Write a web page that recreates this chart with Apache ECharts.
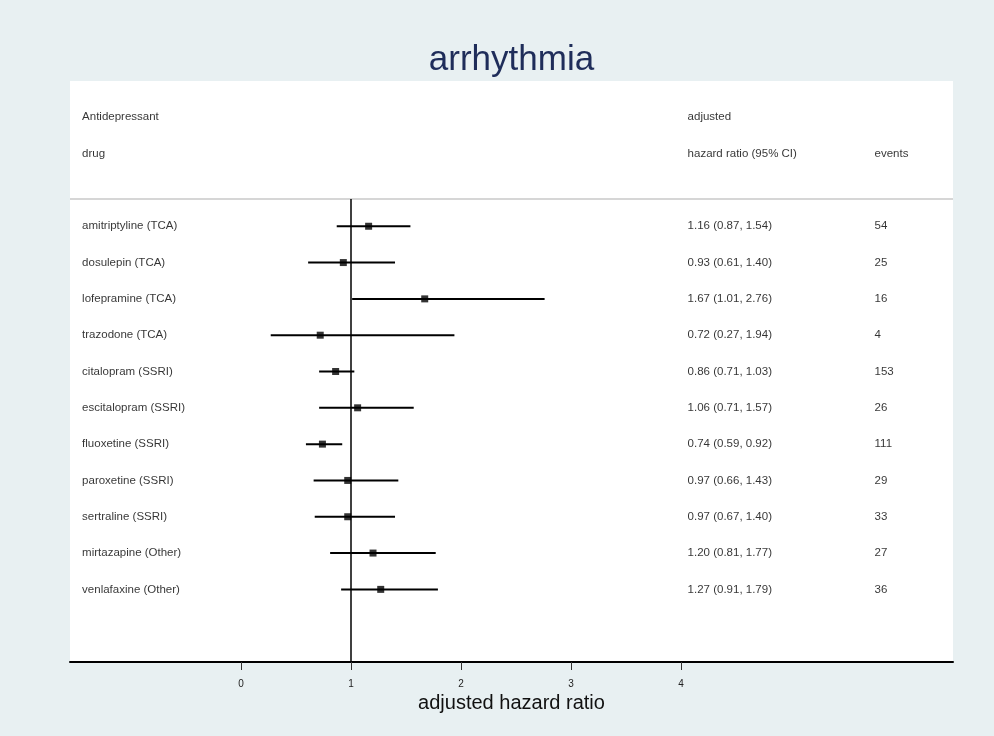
<!DOCTYPE html>
<html>
<head>
<meta charset="utf-8">
<title>arrhythmia</title>
<script src="https://cdn.jsdelivr.net/npm/echarts@6/dist/echarts.min.js"></script>
<style>
  html, body { margin: 0; padding: 0; background: #e8f0f2; }
  #chart { width: 994px; height: 736px; }
</style>
</head>
<body>
<div id="chart"></div>
<script>
// forest plot data, one entry per row (top to bottom)
const drugs = [
  'amitriptyline (TCA)', 'dosulepin (TCA)', 'lofepramine (TCA)', 'trazodone (TCA)',
  'citalopram (SSRI)', 'escitalopram (SSRI)', 'fluoxetine (SSRI)', 'paroxetine (SSRI)',
  'sertraline (SSRI)', 'mirtazapine (Other)', 'venlafaxine (Other)'
];
const hr     = [1.16, 0.93, 1.67, 0.72, 0.86, 1.06, 0.74, 0.97, 0.97, 1.20, 1.27];
const ciLow  = [0.87, 0.61, 1.01, 0.27, 0.71, 0.71, 0.59, 0.66, 0.67, 0.81, 0.91];
const ciHigh = [1.54, 1.40, 2.76, 1.94, 1.03, 1.57, 0.92, 1.43, 1.40, 1.77, 1.79];
const events = [54, 25, 16, 4, 153, 26, 111, 29, 33, 27, 36];
const xTicks = [0, 1, 2, 3, 4];

const FONT = '"Liberation Sans", Arial, Helvetica, sans-serif';
const X_MIN = -1.555, X_MAX = 6.473;
const COL_DRUG = -1.445, COL_CI = 4.06, COL_EVENTS = 5.76;
const SEP_ROW = -0.75;

function fmt(v) { return v.toFixed(2); }

function textSeries(items) {
  return {
    type: 'scatter',
    symbolSize: 0,
    silent: true,
    data: items,
    label: {
      show: true,
      position: 'right',
      distance: 0,
      formatter: '{b}',
      color: '#000',
      fontSize: 11.5,
      fontFamily: FONT
    }
  };
}

const drugText = [
  { name: 'Antidepressant', value: [COL_DRUG, -3] },
  { name: 'drug', value: [COL_DRUG, -2] }
].concat(drugs.map((d, i) => ({ name: d, value: [COL_DRUG, i] })));

const ciText = [
  { name: 'adjusted', value: [COL_CI, -3] },
  { name: 'hazard ratio (95% CI)', value: [COL_CI, -2] }
].concat(hr.map((v, i) => ({
  name: fmt(v) + ' (' + fmt(ciLow[i]) + ', ' + fmt(ciHigh[i]) + ')',
  value: [COL_CI, i]
})));

const eventText = [
  { name: 'events', value: [COL_EVENTS, -2] }
].concat(events.map((e, i) => ({ name: String(e), value: [COL_EVENTS, i] })));

let myChart = echarts.init(document.getElementById('chart'));

let option = {
  backgroundColor: '#e8f0f2',
  animation: false,
  textStyle: { fontFamily: FONT },
  graphic: [{
    type: 'text',
    x: 511.5,
    y: 60,
    style: {
      text: 'arrhythmia',
      fill: '#1f2d5a',
      fontSize: 35,
      fontFamily: FONT,
      textAlign: 'center',
      textVerticalAlign: 'middle'
    }
  }],
  grid: {
    left: 70,
    right: 41,
    top: 81,
    bottom: 74,
    show: true,
    backgroundColor: '#fff',
    borderWidth: 0
  },
  xAxis: {
    type: 'value',
    min: X_MIN,
    max: X_MAX,
    name: 'adjusted hazard ratio',
    nameLocation: 'middle',
    nameGap: 30,
    nameTextStyle: { fontSize: 20, color: '#111', fontFamily: FONT },
    axisLine: { show: true, onZero: false, lineStyle: { color: '#000', width: 2 } },
    axisTick: { show: true, customValues: xTicks, length: 8, lineStyle: { color: '#333', width: 1 } },
    axisLabel: { customValues: xTicks, fontSize: 10, color: '#222', margin: 17 },
    splitLine: { show: false }
  },
  yAxis: {
    type: 'value',
    inverse: true,
    min: -4,
    max: 12,
    show: false
  },
  series: [
    {
      // confidence intervals
      type: 'custom',
      silent: true,
      encode: { x: [0, 1], y: 2 },
      data: drugs.map((d, i) => [ciLow[i], ciHigh[i], i]),
      renderItem: function (params, api) {
        let a = api.coord([api.value(0), api.value(2)]);
        let b = api.coord([api.value(1), api.value(2)]);
        return {
          type: 'line',
          shape: { x1: a[0], y1: a[1], x2: b[0], y2: b[1] },
          style: { stroke: '#000', lineWidth: 2 }
        };
      },
      markLine: {
        silent: true,
        symbol: 'none',
        label: { show: false },
        data: [
          [{ coord: [X_MIN, SEP_ROW], lineStyle: { color: '#c8c8c8', width: 1.5, type: 'solid' } },
           { coord: [X_MAX, SEP_ROW] }],
          [{ coord: [1, SEP_ROW], lineStyle: { color: '#000', width: 1.5, type: 'solid' } },
           { coord: [1, 12] }]
        ]
      }
    },
    {
      // point estimates
      type: 'scatter',
      symbol: 'rect',
      symbolSize: 7,
      silent: true,
      z: 5,
      itemStyle: { color: '#000' },
      data: hr.map((v, i) => [v, i])
    },
    textSeries(drugText),
    textSeries(ciText),
    textSeries(eventText)
  ]
};

myChart.setOption(option, true);

window.addEventListener('resize', () => {
  myChart.resize();
});
</script>
</body>
</html>
